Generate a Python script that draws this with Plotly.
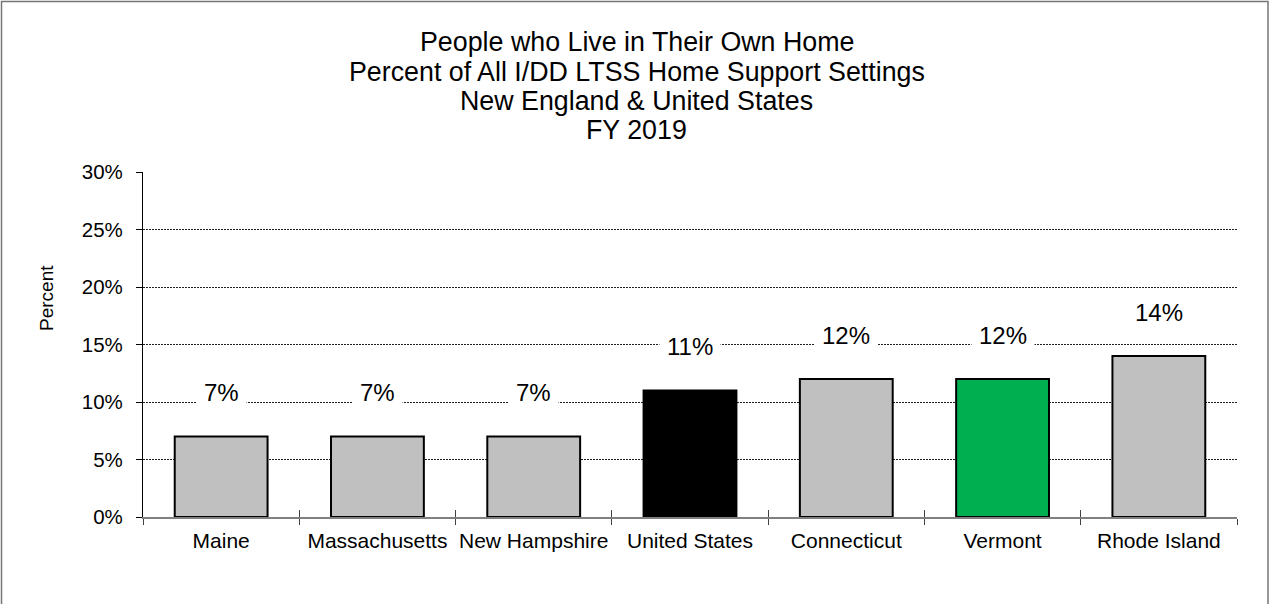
import plotly.graph_objects as go

# ---- data ----
categories = ["Maine", "Massachusetts", "New Hampshire", "United States",
              "Connecticut", "Vermont", "Rhode Island"]
values = [7, 7, 7, 11, 12, 12, 14]
value_labels = ["7%", "7%", "7%", "11%", "12%", "12%", "14%"]
bar_colors = ["#C0C0C0", "#C0C0C0", "#C0C0C0", "#000000",
              "#C0C0C0", "#00B050", "#C0C0C0"]
y_ticks = [0, 5, 10, 15, 20, 25, 30]
y_tick_labels = ["0%", "5%", "10%", "15%", "20%", "25%", "30%"]
title_lines = ["People who Live in Their Own Home",
               "Percent of All I/DD LTSS Home Support Settings",
               "New England & United States",
               "FY 2019"]

FONT = "Liberation Sans, Arial, sans-serif"
W, H = 1273, 604
L, R, T, B = 143, 36, 172, 87
plot_w = W - L - R
plot_h = H - T - B

def px_to_paper_x(px):
    return (px - L) / plot_w

def px_to_paper_y(py):
    return (H - B - py) / plot_h

fig = go.Figure()
fig.add_trace(go.Bar(
    x=categories, y=values,
    marker=dict(color=bar_colors, line=dict(color="#000000", width=2)),
    showlegend=False, hoverinfo="skip",
))
# helper trace for the inner half of the crossing x ticks
fig.add_trace(go.Scatter(x=[None], y=[None], xaxis="x2", yaxis="y",
                         showlegend=False, hoverinfo="skip"))

annotations = []
# data labels
for c, v, lab in zip(categories, values, value_labels):
    annotations.append(dict(
        x=c, y=v, xref="x", yref="y", text=lab, showarrow=False,
        yanchor="middle", yshift=44,
        font=dict(family=FONT, size=24, color="#000000"),
        bgcolor="#FFFFFF", borderpad=7,
    ))
# title lines
title_y_px = [42, 72, 101, 130]
for line, ypx in zip(title_lines, title_y_px):
    annotations.append(dict(
        x=px_to_paper_x(W / 2), y=px_to_paper_y(ypx), xref="paper", yref="paper",
        text=line, showarrow=False, xanchor="center", yanchor="middle",
        font=dict(family=FONT, size=26.8, color="#000000"),
    ))
# y axis title
annotations.append(dict(
    x=px_to_paper_x(46), y=px_to_paper_y(298), xref="paper", yref="paper",
    text="Percent", showarrow=False, textangle=-90,
    xanchor="center", yanchor="middle",
    font=dict(family=FONT, size=19, color="#000000"),
))

fig.update_layout(
    width=W, height=H, autosize=False,
    margin=dict(l=L, r=R, t=T, b=B, pad=0, autoexpand=False),
    paper_bgcolor="#FFFFFF", plot_bgcolor="#FFFFFF",
    bargap=0.406,
    font=dict(family=FONT, size=20, color="#000000"),
    xaxis=dict(
        type="category", categoryorder="array", categoryarray=categories,
        range=[-0.5, len(categories) - 0.5],
        showline=True, linecolor="#808080", linewidth=1.5,
        ticks="outside", tickson="boundaries", ticklen=6, tickcolor="#404040",
        tickwidth=1, showgrid=False, zeroline=False,
        tickfont=dict(family=FONT, size=21, color="#000000"),
        tickangle=0, automargin=False,
        ticklabelstandoff=4,
    ),
    xaxis2=dict(
        overlaying="x", anchor="y", side="bottom",
        range=[-0.5, len(categories) - 0.5],
        tickmode="array",
        tickvals=[i - 0.5 for i in range(len(categories) + 1)],
        ticks="inside", ticklen=7, tickcolor="#404040", tickwidth=1,
        showticklabels=False, showgrid=False, zeroline=False, showline=False,
        automargin=False,
    ),
    yaxis=dict(
        range=[0, 30], tickmode="array", tickvals=y_ticks, ticktext=y_tick_labels,
        showline=True, linecolor="#000000", linewidth=1.2,
        ticks="outside", ticklen=6, tickcolor="#000000",
        showgrid=True, gridcolor="#202020", gridwidth=1, griddash="2px,1px",
        zeroline=False, automargin=False,
        tickfont=dict(family=FONT, size=20.5, color="#000000"),
        ticklabelstandoff=9,
    ),
    annotations=annotations,
    shapes=[dict(
        type="rect", xref="paper", yref="paper",
        x0=px_to_paper_x(1.5), x1=px_to_paper_x(1268),
        y0=px_to_paper_y(612), y1=px_to_paper_y(1.5),
        line=dict(color="#767676", width=1.5), fillcolor="rgba(0,0,0,0)",
        layer="above",
    )],
)

fig.write_html("out.html",
               config=dict(displayModeBar=False),
               post_script="document.body.style.margin='0';document.body.style.padding='0';")
